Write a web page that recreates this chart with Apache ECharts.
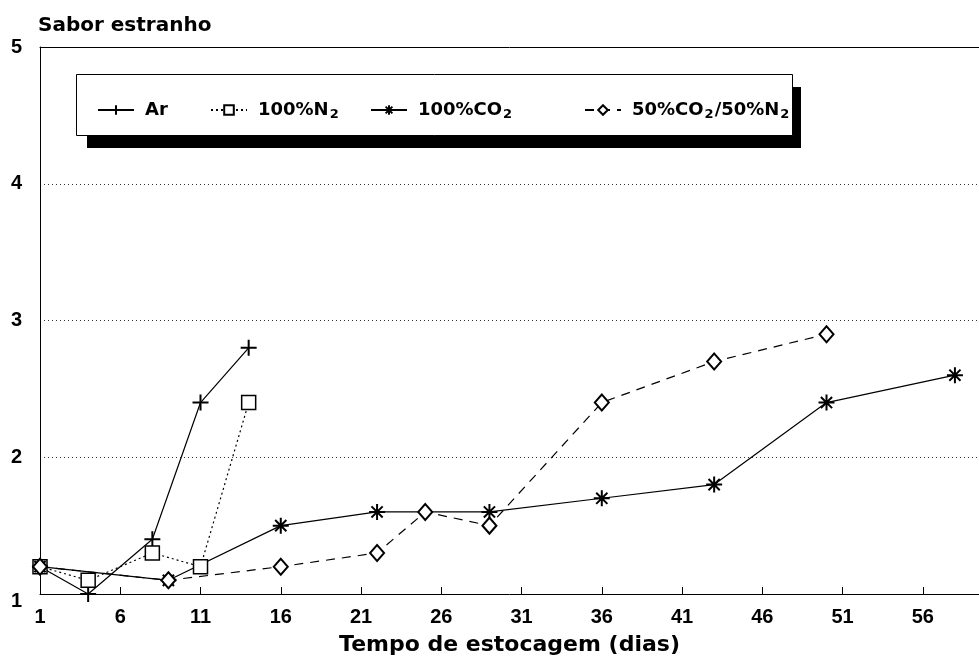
<!DOCTYPE html>
<html>
<head>
<meta charset="utf-8">
<script src="https://cdn.jsdelivr.net/npm/echarts@6/dist/echarts.min.js"></script>
<style>html,body{margin:0;padding:0;background:#fff}#c{width:979px;height:671px}</style>
</head>
<body>
<div id="c"></div>
<script>
var seriesNames = ['Ar', '100%N2', '100%CO2', '50%CO2/50%N2'];
var arDays = [1, 4, 8, 11, 14];
var arVals = [1.2, 1.0, 1.4, 2.4, 2.8];
var n2Days = [1, 4, 8, 11, 14];
var n2Vals = [1.2, 1.1, 1.3, 1.2, 2.4];
var co2Days = [1, 9, 16, 22, 29, 36, 43, 50, 58];
var co2Vals = [1.2, 1.1, 1.5, 1.6, 1.6, 1.7, 1.8, 2.4, 2.6];
var mixDays = [1, 9, 16, 22, 25, 29, 36, 43, 50];
var mixVals = [1.2, 1.1, 1.2, 1.3, 1.6, 1.5, 2.4, 2.7, 2.9];
var xTicks = [1, 6, 11, 16, 21, 26, 31, 36, 41, 46, 51, 56];
var yTicks = [1, 2, 3, 4, 5];

function pairs(xs, ys) { return xs.map(function (x, i) { return [x, ys[i]]; }); }

var FONT = 'DejaVu Sans';
var TICKFONT = 'Liberation Sans';
var plusPath = 'path://M5,0L5,10M0,5L10,5';
var starPath = 'path://M5,0L5,10M0,5L10,5M1.5,1.5L8.5,8.5M8.5,1.5L1.5,8.5';
var legendLeft = [97, 210, 370, 584];

function legendFor(name, i) {
  return {
    z: 10, left: legendLeft[i], top: 101,
    padding: 0,
    itemWidth: 36, itemHeight: 12,
    data: [name],
    formatter: function (n) {
      var parts = n.split(/(?<=[NO])2/);
      var out = '';
      parts.forEach(function (p, k) {
        if (p) out += '{' + (k === 0 ? 'f' : 't') + '|' + p + '}';
        if (k < parts.length - 1) out += '{s|2}';
      });
      return out;
    },
    textStyle: {
      color: '#000',
      rich: {
        f: {fontFamily: FONT, fontWeight: 'bold', fontSize: 18, color: '#000', lineHeight: 22, verticalAlign: 'middle', padding: [0, 0, 0, 6]},
        t: {fontFamily: FONT, fontWeight: 'bold', fontSize: 18, color: '#000', lineHeight: 22, verticalAlign: 'middle'},
        s: {fontFamily: FONT, fontWeight: 'bold', fontSize: 13, color: '#000', lineHeight: 8, verticalAlign: 'bottom', padding: [0, 1, 0, 1]}
      }
    }
  };
}

var chart = echarts.init(document.getElementById('c'), null, {renderer: 'canvas'});
chart.setOption({
  animation: false,
  backgroundColor: '#fff',
  title: {
    text: 'Sabor estranho', left: 33, top: 11,
    textStyle: {fontFamily: FONT, fontWeight: 'bold', fontSize: 20, color: '#000'}
  },
  graphic: [
    {type: 'rect', z: 5, left: 87, top: 87, shape: {width: 714, height: 61}, style: {fill: '#000'}},
    {type: 'rect', z: 6, left: 76, top: 74, shape: {width: 716, height: 61}, style: {fill: '#fff', stroke: '#000', lineWidth: 1}}
  ],
  grid: {left: 40, top: 47, right: 0, bottom: 77, show: false},
  legend: seriesNames.map(legendFor),
  xAxis: [{
    type: 'value', min: 1, max: 59.5,
    name: 'Tempo de estocagem (dias)', nameLocation: 'middle', nameGap: 40,
    nameTextStyle: {fontFamily: FONT, fontWeight: 'bold', fontSize: 22, color: '#000'},
    axisLine: {show: true, lineStyle: {color: '#000', width: 1}},
    axisTick: {show: true, inside: true, length: 7, customValues: xTicks, lineStyle: {color: '#000'}},
    axisLabel: {customValues: xTicks, margin: 13, fontFamily: TICKFONT, fontWeight: 'bold', fontSize: 20, color: '#000'},
    splitLine: {show: false}
  }, {
    type: 'value', min: 1, max: 59.5, position: 'top',
    axisLine: {show: true, lineStyle: {color: '#000', width: 1}},
    axisTick: {show: false}, axisLabel: {show: false}, splitLine: {show: false}
  }],
  yAxis: {
    type: 'value', min: 1, max: 5, interval: 1,
    axisLine: {show: true, lineStyle: {color: '#000', width: 1}},
    axisTick: {show: false},
    axisLabel: {
      margin: 18, fontFamily: TICKFONT, fontWeight: 'bold', fontSize: 20, color: '#000',
      formatter: function (v) { return v === yTicks[0] ? '{low|' + v + '}' : String(v); },
      rich: {low: {fontFamily: TICKFONT, fontWeight: 'bold', fontSize: 20, color: '#000', padding: [14, 0, 0, 0]}}
    },
    splitLine: {show: true, lineStyle: {color: '#333', type: [1, 3], width: 1}}
  },
  series: [
    {
      name: seriesNames[0], type: 'line', data: pairs(arDays, arVals),
      symbol: plusPath, symbolSize: 16,
      itemStyle: {color: '#000', borderColor: '#000', borderWidth: 2},
      lineStyle: {color: '#000', width: 1.2, type: 'solid'}
    },
    {
      name: seriesNames[1], type: 'line', data: pairs(n2Days, n2Vals),
      symbol: 'rect', symbolSize: 14,
      itemStyle: {color: '#fff', borderColor: '#000', borderWidth: 1.5},
      lineStyle: {color: '#000', width: 1.2, type: [2, 3]}
    },
    {
      name: seriesNames[2], type: 'line', data: pairs(co2Days, co2Vals),
      symbol: starPath, symbolSize: 16,
      itemStyle: {color: '#000', borderColor: '#000', borderWidth: 2},
      lineStyle: {color: '#000', width: 1.2, type: 'solid'}
    },
    {
      name: seriesNames[3], type: 'line', data: pairs(mixDays, mixVals),
      symbol: 'diamond', symbolSize: [14, 16],
      itemStyle: {color: '#fff', borderColor: '#000', borderWidth: 2},
      lineStyle: {color: '#000', width: 1.2, type: [9, 7]}
    }
  ]
});
</script>
</body>
</html>
